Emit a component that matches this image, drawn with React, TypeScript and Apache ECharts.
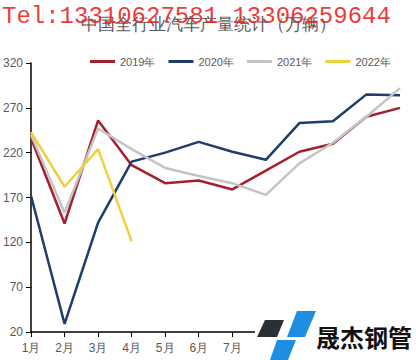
import React, { useEffect, useRef } from "react";
import * as echarts from "echarts";

const months = ["1月", "2月", "3月", "4月", "5月", "6月", "7月", "8月", "9月", "10月", "11月", "12月"];
const s2019 = [236, 141, 256, 206, 186, 189, 179, 200, 221, 230, 260, 270];
const s2020 = [172, 29, 142, 210, 220, 232, 221, 212, 253, 255, 285, 284];
const s2021 = [240, 153, 247, 224, 203, 194, 186, 173, 208, 231, 260, 292];
const s2022 = [243, 182, 224, 121];
const seriesNames = ["2019年", "2020年", "2021年", "2022年"];
const colors = ["#a3202c", "#1f3d6b", "#c4c4c4", "#f0d03c"];
const visibleLabelCount = 7;

export default function App() {
  const ref = useRef<HTMLDivElement>(null);
  useEffect(() => {
    const chart = echarts.init(ref.current!, null, { renderer: "svg" });
    const data = [s2019, s2020, s2021, s2022];
    chart.setOption({
      animation: false,
      backgroundColor: "#ffffff",
      title: {
        text: "中国全行业汽车产量统计（万辆）",
        left: "center",
        top: 11,
        textStyle: { fontSize: 17, fontWeight: "normal", color: "#595959" },
      },
      legend: {
        top: 51,
        left: 85,
        itemWidth: 25,
        itemHeight: 3,
        itemGap: 13,
        itemTextGap: 3,
        icon: "rect",
        textStyle: { fontSize: 11, color: "#595959" },
        data: seriesNames,
      },
      grid: { left: 28, right: 16, top: 63, bottom: 28, containLabel: false },
      xAxis: {
        type: "category",
        data: months,
        boundaryGap: false,
        axisLine: { lineStyle: { color: "#000", width: 1.5 } },
        axisTick: { alignWithLabel: true, lineStyle: { color: "#000" } },
        axisLabel: {
          color: "#595959",
          fontSize: 12,
          margin: 10,
          interval: (idx: number) => idx < visibleLabelCount,
        },
      },
      yAxis: {
        type: "value",
        min: 20,
        max: 320,
        interval: 50,
        splitLine: { show: false },
        axisLine: { show: true, lineStyle: { color: "#000", width: 1.5 } },
        axisTick: { show: true, lineStyle: { color: "#000" } },
        axisLabel: { color: "#595959", fontSize: 12, margin: 8 },
      },
      series: data.map((d, i) => ({
        name: seriesNames[i],
        type: "line",
        data: d,
        showSymbol: false,
        symbol: "none",
        lineStyle: { color: colors[i], width: 2.5 },
        itemStyle: { color: colors[i] },
      })),
      graphic: [
        {
          type: "text",
          left: 2,
          top: 4,
          z: 100,
          style: {
            text: "Tel:13310627581 13306259644",
            fill: "rgba(235,30,30,0.9)",
            font: "24px 'Liberation Mono'",
          },
        },
        {
          type: "rect",
          z: 99,
          shape: { x: 255, y: 305, width: 161, height: 55 },
          style: { fill: "#ffffff" },
        },
        {
          type: "polygon",
          z: 100,
          shape: { points: [[265, 320], [284, 320], [277, 337], [257, 337]] },
          style: { fill: "#2b3038" },
        },
        {
          type: "polygon",
          z: 100,
          shape: { points: [[297, 311], [316, 311], [305, 337], [287, 337]] },
          style: { fill: "#1e8fe0" },
        },
        {
          type: "polygon",
          z: 100,
          shape: { points: [[277, 340], [296, 340], [288, 360], [270, 360]] },
          style: { fill: "#1e8fe0" },
        },
        {
          type: "text",
          x: 316,
          y: 324,
          z: 100,
          style: {
            text: "晟杰钢管",
            fill: "#111",
            font: "bold 24px 'Noto Sans CJK SC'",
          },
        },
      ],
    });
    return () => chart.dispose();
  }, []);
  return <div ref={ref} style={{ width: 416, height: 360, position: "absolute", left: 0, top: 0 }} />;
}
